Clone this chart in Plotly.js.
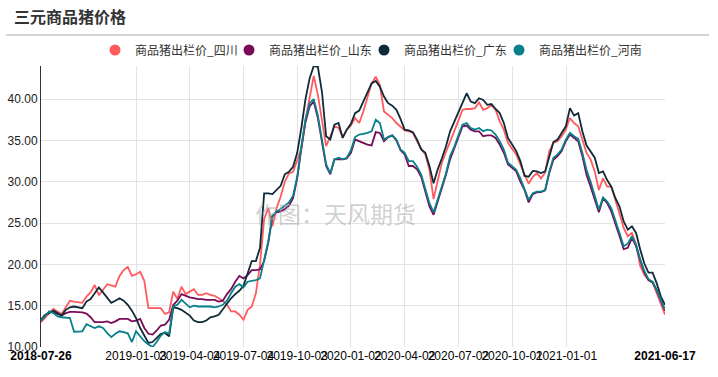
<!DOCTYPE html>
<html>
<head>
<meta charset="utf-8">
<script src="https://cdn.plot.ly/plotly-3.0.1.min.js"></script>
<style>
html,body{margin:0;padding:0;background:#fff;}
#chart{width:718px;height:377px;}
</style>
</head>
<body>
<div id="chart"></div>
<script>
// ---- data ----
const startDate = '2018-07-26';
const endDate = '2021-06-17';
const seriesNames = ['商品猪出栏价_四川', '商品猪出栏价_山东', '商品猪出栏价_广东', '商品猪出栏价_河南'];
const seriesColors = ['#ff5b5f', '#780c58', '#0f2a38', '#08808a'];

const sichuan = [
13.0,13.6,14.1,14.6,14.3,14.0,14.8,15.6,15.5,15.45,
15.35,16.1,16.6,17.5,16.3,16.9,17.6,17.45,17.3,18.6,
19.3,19.7,18.6,18.8,19.1,18.0,14.7,14.7,14.7,14.7,
14.0,14.2,16.7,15.8,17.3,16.4,16.7,17.0,16.3,16.3,
16.5,16.3,16.2,15.9,15.6,15.1,14.3,14.3,13.9,13.3,
14.5,14.9,16.5,20.0,25.5,26.8,24.6,26.8,28.2,30.0,
31.0,31.2,32.5,34.0,37.5,40.0,42.8,40.5,37.4,34.3,
35.5,36.7,36.5,35.4,36.3,36.8,37.7,37.1,38.5,40.3,
41.9,42.7,41.7,38.5,38.1,37.7,37.1,36.6,36.2,36.1,
35.9,34.9,34.0,33.3,31.45,27.9,30.2,32.3,33.6,34.8,
36.0,37.4,38.7,38.8,38.8,38.9,39.6,38.7,38.9,39.3,
38.7,37.3,36.3,34.7,34.0,33.3,32.1,30.85,29.75,30.6,
31.05,30.4,31.1,33.7,34.7,34.9,35.5,36.3,37.7,37.1,
36.7,35.1,33.5,32.7,31.25,29.0,30.4,29.4,29.4,27.8,
26.0,24.4,23.4,23.8,22.4,19.8,18.75,18.1,17.8,16.5,
15.1,13.9
];
const shandong = [
13.2,13.8,14.3,14.2,14.0,13.8,14.1,14.25,14.25,14.25,
14.2,14.05,13.6,13.0,13.0,13.0,13.1,12.9,13.1,13.4,
13.4,13.4,13.1,13.2,13.4,12.3,11.6,11.5,12.0,12.6,
12.7,13.3,15.1,15.6,16.4,16.2,16.0,15.9,15.8,15.8,
15.7,15.7,15.7,15.5,15.6,16.4,17.0,17.9,18.6,18.3,
18.7,19.3,19.3,19.4,20.4,22.6,25.8,26.3,26.4,26.7,
27.1,28.0,30.4,34.0,37.2,39.1,39.7,37.7,34.8,31.9,
30.9,32.7,32.7,32.7,32.8,33.5,35.1,34.9,34.7,34.5,
34.4,36.0,35.9,34.9,35.4,35.6,35.0,33.8,33.3,31.9,
31.9,31.5,30.6,28.8,27.0,26.0,27.6,29.2,30.85,32.7,
34.0,35.4,36.7,36.8,36.3,36.1,36.1,35.5,35.6,35.6,
35.3,34.5,33.5,32.1,31.7,31.25,30.0,29.0,27.5,28.5,
28.7,28.75,28.95,31.05,32.65,33.1,33.7,34.9,35.7,35.3,
34.9,33.1,30.85,29.4,27.8,26.3,28.0,27.4,26.4,25.0,
23.4,21.85,22.0,23.2,22.2,20.5,19.0,18.1,17.8,16.85,
15.5,14.4
];
const guangdong = [
13.3,13.9,14.1,14.4,14.1,13.8,14.5,14.8,14.9,14.8,
14.7,15.5,15.8,16.5,17.2,16.6,16.0,15.35,15.6,15.9,
15.6,15.1,14.4,13.5,12.3,11.3,10.5,10.6,11.1,11.6,
11.7,11.3,14.8,14.7,14.5,14.2,13.8,13.2,13.0,13.0,
13.2,13.6,13.7,13.9,14.6,15.3,15.9,16.4,16.8,17.4,
19.0,20.4,20.4,22.0,28.6,28.6,28.5,29.0,29.5,30.9,
31.2,31.8,33.5,36.5,40.0,42.5,44.0,43.9,40.8,35.5,
35.1,36.9,37.1,35.3,36.3,37.0,38.3,38.6,39.7,40.7,
41.9,42.2,41.5,40.3,39.5,39.2,38.7,37.6,36.3,36.2,
36.0,35.1,33.9,33.5,31.9,29.8,31.5,32.8,34.3,36.1,
37.2,38.5,39.6,40.7,39.7,39.5,40.1,39.9,39.3,39.4,
38.8,38.3,37.1,35.3,34.5,33.7,32.5,30.7,30.6,31.3,
31.25,31.05,31.25,33.1,34.8,35.1,35.9,36.7,38.9,38.0,
38.3,36.1,34.4,33.7,32.9,31.05,31.25,30.2,29.4,28.0,
27.0,25.2,24.2,24.6,23.8,21.8,20.1,19.0,19.0,17.7,
16.1,15.1
];
const henan = [
13.2,13.8,14.3,14.1,13.7,13.6,13.55,13.5,11.85,11.85,
11.9,12.75,12.5,12.3,12.5,12.3,11.7,11.2,11.6,11.9,
11.8,11.65,10.6,11.9,11.3,10.7,10.3,10.0,10.6,11.4,
11.8,11.6,14.9,15.1,15.7,15.2,14.8,15.0,14.9,14.9,
14.9,14.9,14.8,14.9,15.1,15.6,16.5,17.3,17.6,17.2,
17.9,18.0,18.1,18.3,20.5,22.8,25.9,26.4,26.7,27.1,
27.5,28.3,30.6,34.2,37.5,39.5,40.0,38.0,35.0,32.1,
31.0,32.7,32.9,32.7,32.9,33.8,35.4,35.7,35.8,35.9,
36.1,37.5,37.1,35.1,35.4,35.6,35.1,33.9,33.5,32.5,
32.5,31.8,30.85,29.2,27.4,26.3,27.8,29.4,31.0,33.1,
34.2,35.6,36.9,37.1,36.5,36.3,36.5,36.1,36.3,36.2,
35.7,34.9,33.9,32.3,31.9,31.45,30.4,29.2,27.8,28.6,
28.8,28.8,29.0,31.25,32.9,33.3,33.9,35.1,35.9,35.5,
35.2,33.5,31.45,30.0,28.2,26.6,28.1,27.6,26.8,25.4,
23.8,22.2,22.5,23.4,22.4,20.6,19.2,18.2,17.9,16.9,
15.6,14.5
];
const xTickVals = ['2019-01-03','2019-04-04','2019-07-04','2019-10-03','2020-01-02','2020-04-02','2020-07-02','2020-10-01','2021-01-01'];
const xTickText = ['2019-01-03','2019-04-04','2019-07-04','2019-10-03','2020-01-02','2020-04-02','2020-07-02','2020-10-01','2021-01-01'];
const yTickVals = [10,15,20,25,30,35,40];

// weekly dates (every Thursday) from start to end
const dates = [];
(function(){
  let d = new Date(startDate + 'T00:00:00Z');
  const e = new Date(endDate + 'T00:00:00Z');
  while (d <= e) { dates.push(d.toISOString().slice(0,10)); d = new Date(d.getTime() + 7*86400000); }
})();

const W = 718, H = 377, L = 41, R = 53, T = 66, B = 30;
const pw = W - L - R, ph = H - T - B;
const px2x = p => (p - L) / pw;
const px2y = p => (H - B - p) / ph;

const allSeries = [sichuan, shandong, guangdong, henan];
const legendIds = ['legend', 'legend2', 'legend3', 'legend4'];
const legendLeftPx = [95, 229, 364, 499];
const traces = [];
allSeries.forEach((vals, k) => {
  traces.push({
    type: 'scatter', mode: 'lines', x: dates, y: vals, name: seriesNames[k],
    line: {color: seriesColors[k], width: 1.8}, showlegend: false, hoverinfo: 'skip'
  });
});
// legend entries (circle symbols), one legend box each
allSeries.forEach((vals, k) => {
  traces.push({
    type: 'scatter', mode: 'markers', x: [null], y: [null], xaxis: 'x2', name: seriesNames[k],
    legend: legendIds[k],
    marker: {color: seriesColors[k], size: 11, symbol: 'circle'}, showlegend: true, hoverinfo: 'skip'
  });
});

const layout = {
  width: W, height: H,
  margin: {l: L, r: R, t: T, b: B},
  paper_bgcolor: '#fff', plot_bgcolor: '#fff',
  font: {family: 'Liberation Sans, Arial, sans-serif', size: 12, color: '#000'},
  title: {
    text: '<b>三元商品猪价格</b>', x: 14 / W, xref: 'container', xanchor: 'left',
    y: 1 - 17 / H, yref: 'container', yanchor: 'middle',
    font: {family: 'Noto Sans CJK SC', size: 16, color: '#333'}
  },
  xaxis: {
    type: 'date', range: [startDate, endDate], tickmode: 'array',
    tickvals: xTickVals, ticktext: xTickText, tickangle: 0,
    showgrid: true, gridcolor: '#e3e3e3', gridwidth: 1,
    showline: false, zeroline: false, ticks: '',
    tickfont: {family: 'Liberation Sans, Arial, sans-serif', size: 12, color: '#000'},
    automargin: false
  },
  xaxis2: {
    type: 'date', range: [startDate, endDate], overlaying: 'x', anchor: 'y', side: 'bottom',
    tickmode: 'array', tickvals: [startDate, endDate],
    ticktext: ['<b>' + startDate + '</b>', '<b>' + endDate + '</b>'], tickangle: 0,
    showgrid: false, showline: false, zeroline: false, ticks: '',
    tickfont: {family: 'Liberation Sans, Arial, sans-serif', size: 12, color: '#000'},
    automargin: false
  },
  yaxis: {
    range: [10, 44], tickmode: 'array', tickvals: yTickVals, tickformat: '.2f',
    showgrid: true, gridcolor: '#e3e3e3', gridwidth: 1,
    showline: true, linecolor: '#333', linewidth: 1, zeroline: false, ticks: '',
    tickfont: {family: 'Liberation Sans, Arial, sans-serif', size: 12, color: '#222'},
    automargin: false
  },
  shapes: [{
    type: 'line', xref: 'paper', yref: 'paper',
    x0: px2x(6), x1: px2x(709), y0: px2y(35), y1: px2y(35),
    line: {color: '#aaaaaa', width: 1}
  }],
  annotations: [{
    text: '作图：天风期货', xref: 'paper', yref: 'paper',
    x: px2x(335), y: px2y(213), xanchor: 'center', yanchor: 'middle', showarrow: false,
    font: {family: 'Noto Sans CJK SC', size: 23, color: 'rgba(170,170,170,0.55)'}
  }]
};
legendIds.forEach((id, k) => {
  layout[id] = {
    orientation: 'h', x: px2x(legendLeftPx[k]), xanchor: 'left', y: px2y(50), yanchor: 'middle',
    font: {family: 'Noto Sans CJK SC', size: 12, color: '#333'},
    itemwidth: 30, bgcolor: 'rgba(0,0,0,0)'
  };
});

Plotly.newPlot('chart', traces, layout, {staticPlot: true, displayModeBar: false});
</script>
</body>
</html>
